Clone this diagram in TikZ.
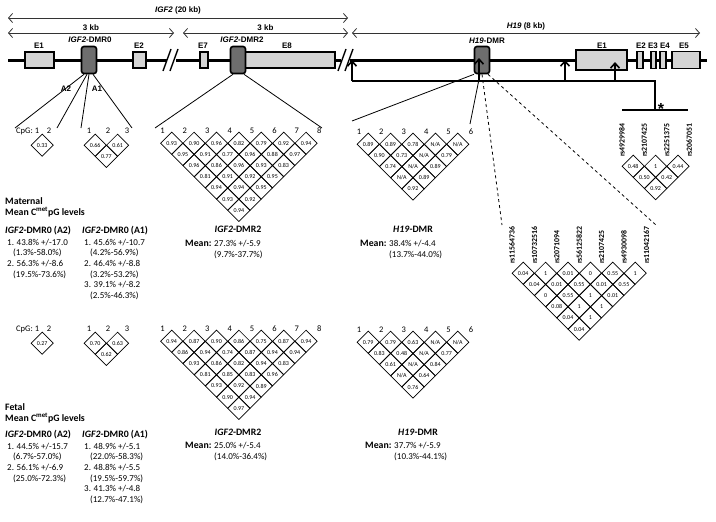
\documentclass[tikz,border=0pt]{standalone}
\usepackage{fontspec}
\setmainfont{Carlito}
\newfontfamily\arialfont{Liberation Sans}
\usetikzlibrary{arrows.meta,shapes.geometric}
\definecolor{exongray}{gray}{0.83}
\definecolor{dmrgray}{gray}{0.43}

\tikzset{
  chrom/.style={line width=3pt},
  exon/.style={draw, line width=1.6pt, fill=exongray, inner sep=0, minimum height=16pt},
  dmrbox/.style={draw, line width=1.6pt, fill=dmrgray, rounded corners=2.5pt, inner sep=0, minimum width=15pt, minimum height=27pt},
  genelbl/.style={font=\arialfont\bfseries\fontsize{8}{9}\selectfont, inner sep=0},
  span/.style={{Straight Barb[length=4pt,width=9pt]}-{Straight Barb[length=4pt,width=9pt]}, line width=0.8pt, draw=black!80},
  tss/.style={-{Straight Barb[length=5pt,width=9pt]}, line width=1.6pt},
  ld/.style={draw, diamond, line width=0.7pt, inner sep=0, minimum width=22.4pt, minimum height=22.4pt, font=\fontsize{6}{7}\selectfont},
  cpg/.style={font=\fontsize{8.5}{9}\selectfont, anchor=base, inner sep=0},
  snp/.style={font=\bfseries\fontsize{7.8}{8}\selectfont, rotate=90, anchor=west, inner sep=0},
  txt/.style={font=\fontsize{9}{10.6}\selectfont, align=left, inner sep=0, anchor=north west},
  hdr/.style={font=\bfseries\fontsize{9.8}{11.5}\selectfont, align=left, inner sep=0, anchor=north west},
  link/.style={line width=0.8pt},
}
\newcommand{\bighead}[1]{{\bfseries\fontsize{9.8}{10.6}\selectfont #1}}

% LD triangle: name, left x, top y, rows of values
\newcommand{\ldplot}[4]{%
  \foreach \vals [count=\rw from 0] in {#4} {
    \foreach \v [count=\cl from 0] in \vals
      \node[ld] (#1-\rw-\cl) at ({#2+11.2*(\rw+1)+22.4*\cl},{#3+11.2*(\rw+1)}) {\v};
  }}
% CpG numbers over a triangle
\newcommand{\cpgnums}[4]{%
  \foreach \k in {1,...,#4}
    \node[cpg] (#1-c\k) at ({#2+22.4*(\k-1)+2},{#3+1}) {\k};}
% SNP names over a triangle
\newcommand{\snpnames}[4]{%
  \foreach \s [count=\k from 0] in {#4}
    \node[snp] (#1-s\k) at ({#2+22.4*\k},{#3+2}) {\s};}

\begin{document}
\begin{tikzpicture}[x=1pt,y=-1pt]
\useasboundingbox (0,0) rectangle (716,522);

% sizes
\coordinate (igfL) at (8,18); \coordinate (igfR) at (348,18);
\coordinate (kbaL) at (8,33); \coordinate (kbaR) at (174,33);
\coordinate (kbbL) at (183,33); \coordinate (kbbR) at (348,33);
\coordinate (h19L) at (352,33); \coordinate (h19R) at (700,33);
\draw[span] (igfL) -- node[genelbl, above=3pt] (igflbl) {\textit{IGF2} (20 kb)} (igfR);
\draw[span] (kbaL) -- node[genelbl, above=2pt] (kbalbl) {3 kb} (kbaR);
\draw[span] (kbbL) -- node[genelbl, above=2pt] (kbblbl) {3 kb} (kbbR);
\draw[span] (h19L) -- node[genelbl, above=2pt] (h19lbl) {\textit{H19} (8 kb)} (h19R);

% chromosome
\coordinate (chr) at (0,60);
\draw[chrom] (8,60) -- (167,60) (176,60) -- (341,60) (350,60) -- (707,60);
\draw[line width=1.4pt] (163,71) -- (171,49) (170,71) -- (178,49);
\draw[line width=1.4pt] (338,71) -- (346,49) (345,71) -- (353,49);

\node[exon, minimum width=29pt] (ie1) at (39.5,60) {};
\node[exon, minimum width=13pt] (ie2) at (139.5,60) {};
\node[exon, minimum width=8pt] (ie7) at (204,60) {};
\node[exon, minimum width=92pt] (ie8) at (289,60) {};
\node[dmrbox] (dmr0) at (89,60) {};
\node[dmrbox] (dmr2) at (238,60) {};
\node[dmrbox] (hdmr) at (482,60) {};
\node[exon, minimum width=51pt, minimum height=20pt] (he1) at (601.5,60) {};
\node[exon, minimum width=6pt, minimum height=17pt] (he2) at (640,60) {};
\node[exon, minimum width=5pt, minimum height=17pt] (he3) at (653.5,60) {};
\node[exon, minimum width=6pt, minimum height=17pt] (he4) at (663,60) {};
\node[exon, minimum width=28pt, minimum height=17pt] (he5) at (686,60) {};

\node[genelbl] (lie1) at (39,46) {E1};
\node[genelbl] (ldmr0) at (90,40) {\textit{IGF2}-DMR0};
\node[genelbl] (lie2) at (139,46) {E2};
\node[genelbl] (lie7) at (203,46) {E7};
\node[genelbl] (ldmr2) at (242,40) {\textit{IGF2}-DMR2};
\node[genelbl] (lie8) at (287,46) {E8};
\node[genelbl] (lhdmr) at (487,41) {\textit{H19}-DMR};
\node[genelbl] (lhe1) at (602,46) {E1};
\node[genelbl] (lhe2) at (641,46) {E2};
\node[genelbl] (lhe3) at (653,46) {E3};
\node[genelbl] (lhe4) at (665,46) {E4};
\node[genelbl] (lhe5) at (684,46) {E5};

% promoters and SNP block
\coordinate (br1) at (352,81); \coordinate (br2) at (479,81);
\coordinate (br3) at (565,81); \coordinate (br4) at (615,81);
\coordinate (brE) at (655,81); \coordinate (snpC) at (655,110);
\coordinate (snpL) at (622,110); \coordinate (snpR) at (688,110);
\draw[line width=1.6pt] (br1) -- (brE) -- (snpC);
\draw[tss] (br1) -- (br1 |- chr);
\draw[tss] (br2) -- ([yshift=2pt]br2 |- hdmr.center);
\draw[tss] (br3) -- (br3 |- chr);
\draw[tss] (br4) -- ([yshift=-2pt]br4 |- he1.center);
\draw[line width=1.6pt] (snpL) -- (snpR);
\node[font=\arialfont\bfseries\fontsize{16}{16}\selectfont, inner sep=0, anchor=base] (star) at (661,114) {*};

% links to the CpG plots
\coordinate (a2L) at (15,128); \coordinate (a2R) at (57,128);
\coordinate (a1L) at (81,128); \coordinate (a1R) at (132,128);
\coordinate (d2L) at (155,128); \coordinate (d2R) at (322,128);
\coordinate (hL) at (352,121); \coordinate (hR) at (470,124);
\coordinate (sbL) at (502,225); \coordinate (sbR) at (656,225);
\draw[link] ([xshift=-5pt]dmr0.south) -- (a2L);
\draw[link] ([xshift=-2pt]dmr0.south) -- (a2R);
\draw[link] (dmr0.south) -- (a1L);
\draw[link] ([xshift=4pt]dmr0.south) -- (a1R);
\node[genelbl] (la2) at (66,89) {A2};
\node[genelbl] (la1) at (97,89) {A1};
\draw[link] ([xshift=-5pt]dmr2.south) -- (d2L);
\draw[link] ([xshift=6pt]dmr2.south) -- (d2R);
\draw[link] ([xshift=-8pt]hdmr.south) -- (hL);
\draw[link] ([xshift=-2pt]hdmr.south) -- (hR);
\draw[link, dashed] (hdmr.south) -- (sbL);
\draw[link, dashed] ([xshift=6pt]hdmr.south) -- (sbR);

% maternal plots
\node[cpg, anchor=base east] (mcpg) at (33,133) {CpG:};
\node[cpg] (ma2-c1) at (37,133) {1};
\node[cpg] (ma2-c2) at (49,133) {2};
\ldplot{ma2}{31}{134}{{0.33}}
\node[cpg] (ma1-c1) at (89,133) {1};
\node[cpg] (ma1-c2) at (108,133) {2};
\node[cpg] (ma1-c3) at (127,133) {3};
\ldplot{ma1}{84}{134}{{0.66,0.61},{0.77}}
\cpgnums{md2}{160.5}{132}{8}
\ldplot{md2}{160.5}{132}{{0.93,0.90,0.96,0.82,0.79,0.92,0.94},{0.95,0.91,0.77,0.96,0.88,0.97},{0.96,0.86,0.96,0.93,0.83},{0.81,0.91,0.92,0.95},{0.94,0.94,0.95},{0.93,0.92},{0.94}}
\cpgnums{mh}{357}{133}{6}
\ldplot{mh}{357}{133}{{0.89,0.89,0.78,N/A,N/A},{0.90,0.73,N/A,0.79},{0.74,N/A,0.89},{N/A,0.89},{0.92}}

% SNP plots
\snpnames{ss}{622}{155}{rs4929984,rs2107425,rs2251375,rs2067051}
\ldplot{ss}{622}{155}{{0.48,1,0.44},{0.50,0.42},{0.92}}
\snpnames{sb}{512}{262}{rs11564736,rs10732516,rs2071094,rs56125822,rs2107425,rs4930098,rs11042167}
\ldplot{sb}{512}{262}{{0.04,1,0.01,0,0.55,1},{0.04,0.01,0.55,0.01,0.55},{0,0.55,1,0.01},{0.08,1,1},{0.04,1},{0.04}}

% maternal text
\node[hdr] (mat) at (5,197) {Maternal\\Mean C\textsuperscript{met}pG levels};
\node[txt] (ma2txt) at (5,226) {\bighead{\textit{IGF2}-DMR0 (A2)}\\[1.2pt]\hspace*{2pt}1. 43.8\% +/-17.0\\ \hspace*{8pt}(1.3\%-58.0\%)\\ \hspace*{2pt}2. 56.3\% +/-8.6\\ \hspace*{8pt}(19.5\%-73.6\%)};
\node[txt] (ma1txt) at (82,226) {\bighead{\textit{IGF2}-DMR0 (A1)}\\[1.2pt]\hspace*{2pt}1. 45.6\% +/-10.7\\ \hspace*{8pt}(4.2\%-56.9\%)\\ \hspace*{2pt}2. 46.4\% +/-8.8\\ \hspace*{8pt}(3.2\%-53.2\%)\\ \hspace*{2pt}3. 39.1\% +/-8.2\\ \hspace*{8pt}(2.5\%-46.3\%)};
\node[hdr, anchor=north] (md2name) at (238,226) {\textit{IGF2}-DMR2};
\node[txt] (md2mean) at (185,239) {\begin{tabular}{@{}l@{ }l@{}}\bighead{Mean:} & 27.3\% +/-5.9\\ & (9.7\%-37.7\%)\end{tabular}};
\node[hdr, anchor=north] (mhname) at (413,226) {\textit{H19}-DMR};
\node[txt] (mhmean) at (360,239) {\begin{tabular}{@{}l@{ }l@{}}\bighead{Mean:} & 38.4\% +/-4.4\\ & (13.7\%-44.0\%)\end{tabular}};

% fetal plots
\node[cpg, anchor=base east] (fcpg) at (33,331) {CpG:};
\node[cpg] (fa2-c1) at (37,331) {1};
\node[cpg] (fa2-c2) at (49,331) {2};
\ldplot{fa2}{31}{332}{{0.27}}
\node[cpg] (fa1-c1) at (89,331) {1};
\node[cpg] (fa1-c2) at (108,331) {2};
\node[cpg] (fa1-c3) at (127,331) {3};
\ldplot{fa1}{84}{332}{{0.70,0.63},{0.62}}
\cpgnums{fd2}{160.5}{330}{8}
\ldplot{fd2}{160.5}{330}{{0.94,0.87,0.90,0.86,0.75,0.87,0.94},{0.86,0.94,0.74,0.87,0.94,0.94},{0.93,0.86,0.82,0.94,0.83},{0.81,0.85,0.83,0.96},{0.93,0.92,0.89},{0.90,0.94},{0.97}}
\cpgnums{fh}{357}{331}{6}
\ldplot{fh}{357}{331}{{0.79,0.79,0.63,N/A,N/A},{0.83,0.48,N/A,0.77},{0.61,N/A,0.84},{N/A,0.64},{0.76}}

% fetal text
\node[hdr] (fet) at (5,403) {Fetal\\Mean C\textsuperscript{met}pG levels};
\node[txt] (fa2txt) at (5,430) {\bighead{\textit{IGF2}-DMR0 (A2)}\\[1.2pt]\hspace*{2pt}1. 44.5\% +/-15.7\\ \hspace*{8pt}(6.7\%-57.0\%)\\ \hspace*{2pt}2. 56.1\% +/-6.9\\ \hspace*{8pt}(25.0\%-72.3\%)};
\node[txt] (fa1txt) at (82,430) {\bighead{\textit{IGF2}-DMR0 (A1)}\\[1.2pt]\hspace*{2pt}1. 48.9\% +/-5.1\\ \hspace*{8pt}(22.0\%-58.3\%)\\ \hspace*{2pt}2. 48.8\% +/-5.5\\ \hspace*{8pt}(19.5\%-59.7\%)\\ \hspace*{2pt}3. 41.3\% +/-4.8\\ \hspace*{8pt}(12.7\%-47.1\%)};
\node[hdr, anchor=north] (fd2name) at (238,429) {\textit{IGF2}-DMR2};
\node[txt] (fd2mean) at (185,441) {\begin{tabular}{@{}l@{ }l@{}}\bighead{Mean:} & 25.0\% +/-5.4\\ & (14.0\%-36.4\%)\end{tabular}};
\node[hdr, anchor=north] (fhname) at (418,429) {\textit{H19}-DMR};
\node[txt] (fhmean) at (365,441) {\begin{tabular}{@{}l@{ }l@{}}\bighead{Mean:} & 37.7\% +/-5.9\\ & (10.3\%-44.1\%)\end{tabular}};
\end{tikzpicture}
\end{document}
